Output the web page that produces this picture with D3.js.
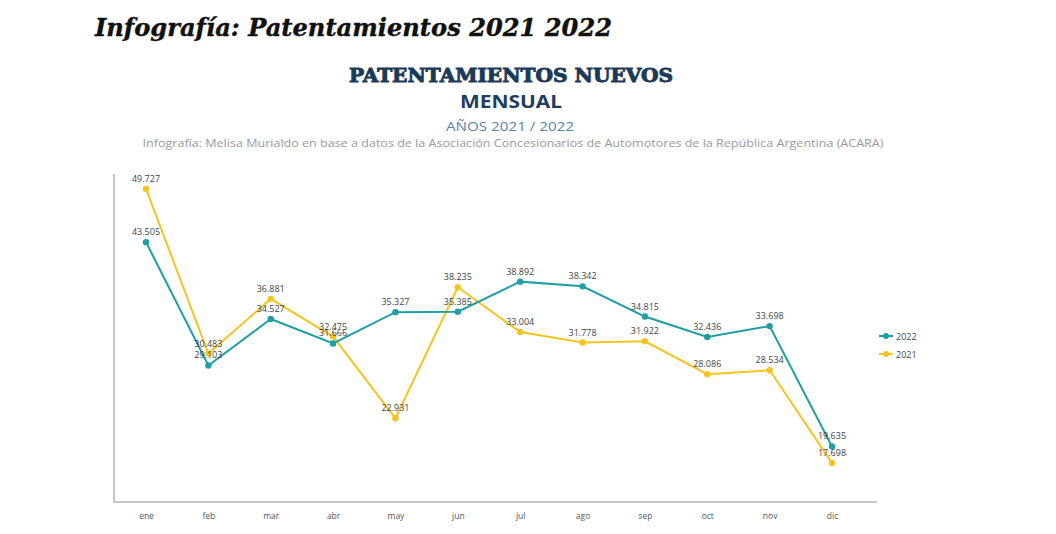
<!DOCTYPE html>
<html>
<head>
<meta charset="utf-8">
<script src="https://cdn.jsdelivr.net/npm/d3@7"></script>
<style>
  html, body { margin: 0; padding: 0; background: #ffffff; }
  svg { display: block; }
</style>
</head>
<body>
<div id="chart"></div>
<script>
const months = ["ene","feb","mar","abr","may","jun","jul","ago","sep","oct","nov","dic"];
const values2022 = [43505, 29103, 34527, 31666, 35327, 35385, 38892, 38342, 34815, 32436, 33698, 19635];
const values2021 = [49727, 30483, 36881, 32475, 22931, 38235, 33004, 31778, 31922, 28086, 28534, 17698];
const seriesNames = ["2022", "2021"];
const seriesColors = ["#1f9ea3", "#f5c420"];

const W = 1056, H = 534;
const svg = d3.select("#chart").append("svg").attr("width", W).attr("height", H);

// Titles
svg.append("text").attr("x", 95).attr("y", 36)
  .attr("font-family", "'DejaVu Serif', serif").attr("font-style", "italic").attr("font-weight", "bold")
  .attr("font-size", 25).attr("fill", "#111").attr("stroke", "#111").attr("stroke-width", 0.4)
  .attr("textLength", 517).attr("lengthAdjust", "spacingAndGlyphs")
  .text("Infografía: Patentamientos 2021 2022");

svg.append("text").attr("x", 511).attr("y", 82).attr("text-anchor", "middle")
  .attr("font-family", "'DejaVu Serif', serif").attr("font-weight", "bold")
  .attr("font-size", 18).attr("fill", "#1b3a57").attr("stroke", "#1b3a57").attr("stroke-width", 0.9)
  .attr("textLength", 324).attr("lengthAdjust", "spacingAndGlyphs")
  .text("PATENTAMIENTOS NUEVOS");

svg.append("text").attr("x", 511).attr("y", 108).attr("text-anchor", "middle")
  .attr("font-family", "'Open Sans', sans-serif").attr("font-weight", "bold")
  .attr("font-size", 17).attr("fill", "#1f3d5c").attr("textLength", 102).attr("lengthAdjust", "spacingAndGlyphs")
  .text("MENSUAL");

svg.append("text").attr("x", 510).attr("y", 131).attr("text-anchor", "middle")
  .attr("font-family", "'Open Sans', sans-serif")
  .attr("font-size", 13).attr("fill", "#5a7fa8").attr("textLength", 128).attr("lengthAdjust", "spacingAndGlyphs")
  .text("AÑOS 2021 / 2022");

svg.append("text").attr("x", 513).attr("y", 147).attr("text-anchor", "middle")
  .attr("font-family", "'Open Sans', sans-serif")
  .attr("font-size", 10).attr("fill", "#9a9a9a").attr("textLength", 741).attr("lengthAdjust", "spacingAndGlyphs")
  .text("Infografía: Melisa Murialdo en base a datos de la Asociación Concesionarios de Automotores de la República Argentina (ACARA)");

// Scales
const x = d3.scalePoint().domain(months).range([146, 832]);
const y = d3.scaleLinear().domain([13150, 51700]).range([502, 172]);

// Axes lines
svg.append("line").attr("x1", 114).attr("x2", 114).attr("y1", 174).attr("y2", 503)
  .attr("stroke", "#c4c4c4").attr("stroke-width", 2);
svg.append("line").attr("x1", 113).attr("x2", 877).attr("y1", 502).attr("y2", 502)
  .attr("stroke", "#c4c4c4").attr("stroke-width", 2);

// X axis labels
const xAxis = d3.axisBottom(x).tickSize(0).tickPadding(0);
const gx = svg.append("g").attr("transform", "translate(0,513)").call(xAxis);
gx.select(".domain").remove();
gx.selectAll("text").attr("font-family", "'Open Sans', sans-serif").attr("font-size", 8.5).attr("fill", "#555");

const fmt = v => d3.format(",")(v).replace(/,/g, ".");
const line = d3.line().x((d, i) => x(months[i])).y(d => y(d));

// Draw 2021 first, then 2022 on top
const series = [
  { name: seriesNames[1], values: values2021, color: seriesColors[1] },
  { name: seriesNames[0], values: values2022, color: seriesColors[0] }
];

series.forEach(s => {
  svg.append("path").datum(s.values).attr("d", line)
    .attr("fill", "none").attr("stroke", s.color).attr("stroke-width", 2);
  svg.selectAll(null).data(s.values).enter().append("circle")
    .attr("cx", (d, i) => x(months[i])).attr("cy", d => y(d)).attr("r", 3.2)
    .attr("fill", s.color);
});

series.forEach(s => {
  svg.selectAll(null).data(s.values).enter().append("text")
    .attr("x", (d, i) => x(months[i])).attr("y", d => y(d) - 7)
    .attr("text-anchor", "middle")
    .attr("font-family", "'Open Sans', sans-serif").attr("font-size", 9).attr("fill", "#444")
    .text(d => fmt(d));
});

// Legend
const legendItems = [
  { name: seriesNames[0], color: seriesColors[0] },
  { name: seriesNames[1], color: seriesColors[1] }
];
const lg = svg.append("g");
legendItems.forEach((it, i) => {
  const ly = 336 + i * 18;
  lg.append("line").attr("x1", 879).attr("x2", 893).attr("y1", ly).attr("y2", ly)
    .attr("stroke", it.color).attr("stroke-width", 2);
  lg.append("circle").attr("cx", 886).attr("cy", ly).attr("r", 3).attr("fill", it.color);
  lg.append("text").attr("x", 896).attr("y", ly + 3.5)
    .attr("font-family", "'Open Sans', sans-serif").attr("font-size", 9).attr("fill", "#444")
    .text(it.name);
});
</script>
</body>
</html>
